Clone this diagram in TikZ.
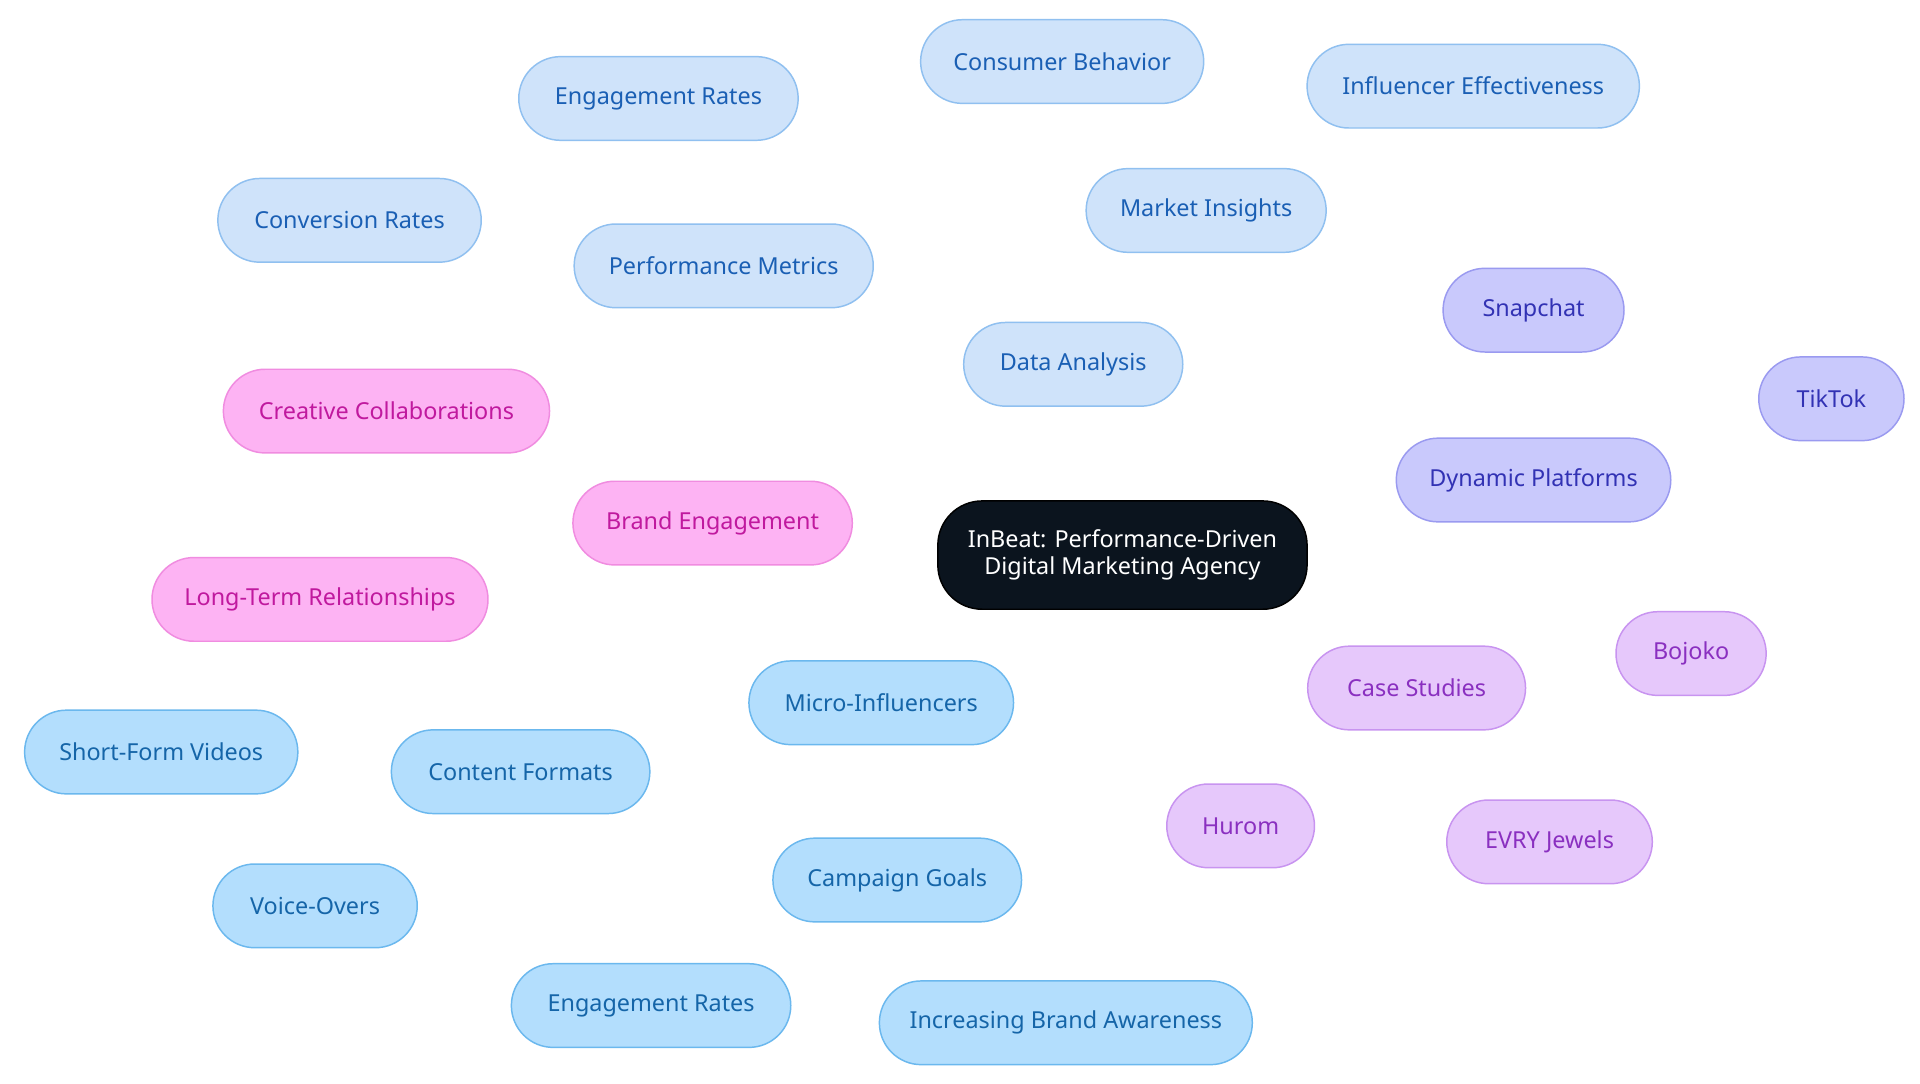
\documentclass[tikz,border=0pt]{standalone}
\usepackage{fontspec}
\setmainfont{Noto Sans}
\usetikzlibrary{backgrounds}
\definecolor{dF}{HTML}{CFE3FA}\definecolor{dB}{HTML}{90C0F0}\definecolor{dT}{HTML}{1A5FB4}
\definecolor{mF}{HTML}{B3DEFD}\definecolor{mB}{HTML}{6BB8EE}\definecolor{mT}{HTML}{1565A8}
\definecolor{pF}{HTML}{C9C9FC}\definecolor{pB}{HTML}{9A9AF0}\definecolor{pT}{HTML}{3232B4}
\definecolor{kF}{HTML}{FDB3F3}\definecolor{kB}{HTML}{F08CE0}\definecolor{kT}{HTML}{C0199E}
\definecolor{lF}{HTML}{E6C8FB}\definecolor{lB}{HTML}{C894F0}\definecolor{lT}{HTML}{8A30C0}
\definecolor{cF}{HTML}{0B141E}
\tikzset{
 b/.style={rounded corners=17pt,minimum height=34pt,font=\fontsize{9.5}{11}\selectfont,line width=0.6pt,inner sep=0pt},
 d/.style={b,fill=dF,draw=dB,text=dT},
 m/.style={b,fill=mF,draw=mB,text=mT},
 p/.style={b,fill=pF,draw=pB,text=pT},
 k/.style={b,fill=kF,draw=kB,text=kT},
 l/.style={b,fill=lF,draw=lB,text=lT},
 ed/.style={draw=dB,line width=1.2pt},
 em/.style={draw=mB,line width=1.2pt},
 ep/.style={draw=pB,line width=1.2pt},
 ek/.style={draw=kB,line width=1.2pt},
 el/.style={draw=lB,line width=1.2pt},
}
\begin{document}
\begin{tikzpicture}[x=0.5pt,y=-0.5pt]
\useasboundingbox[fill=white] (0,0) rectangle (1560,880);
\node[b,fill=cF,draw=black,text=white,minimum width=150pt,minimum height=44pt,rounded corners=18pt,align=center] (c) at (912,451) {InBeat: Performance-Driven\\Digital Marketing Agency};
\node[d,minimum width=89pt] (da) at (872,296) {Data Analysis};
\node[d,minimum width=121.5pt] (pm) at (588,216) {Performance Metrics};
\node[d,minimum width=113.5pt] (er1) at (535,80) {Engagement Rates};
\node[d,minimum width=107pt] (cr) at (284,179) {Conversion Rates};
\node[d,minimum width=97.5pt] (mi) at (980,171) {Market Insights};
\node[d,minimum width=115pt] (cb) at (863,50) {Consumer Behavior};
\node[d,minimum width=135pt] (ie) at (1197,70) {Influencer Effectiveness};
\node[p,minimum width=111.5pt] (dp) at (1246,390) {Dynamic Platforms};
\node[p,minimum width=73.5pt] (sc) at (1246,252) {Snapchat};
\node[p,minimum width=59pt] (tt) at (1488,324) {TikTok};
\node[k,minimum width=113.5pt] (be) at (579,425) {Brand Engagement};
\node[k,minimum width=132.5pt] (cc) at (314,334) {Creative Collaborations};
\node[k,minimum width=136.5pt] (lt) at (260,487) {Long-Term Relationships};
\node[l,minimum width=88.5pt] (cs) at (1151,559) {Case Studies};
\node[l,minimum width=61pt] (bo) at (1374,531) {Bojoko};
\node[l,minimum width=60pt] (hu) at (1008,671) {Hurom};
\node[l,minimum width=83.5pt] (ev) at (1259,684) {EVRY Jewels};
\node[m,minimum width=107.5pt] (mc) at (716,571) {Micro-Influencers};
\node[m,minimum width=105pt] (cf) at (423,627) {Content Formats};
\node[m,minimum width=111pt] (sf) at (131,611) {Short-Form Videos};
\node[m,minimum width=83pt] (vo) at (256,736) {Voice-Overs};
\node[m,minimum width=101pt] (cg) at (729,715) {Campaign Goals};
\node[m,minimum width=113.5pt] (er2) at (529,817) {Engagement Rates};
\node[m,minimum width=151.5pt] (ib) at (866,831) {Increasing Brand Awareness};
\begin{scope}[on background layer]
\path[ed] (c)--(da) (da)--(pm) (pm)--(er1) (pm)--(cr) (da)--(mi) (mi)--(cb) (mi)--(ie);
\path[ep] (c)--(dp) (dp)--(sc) (dp)--(tt);
\path[ek] (c)--(be) (be)--(cc) (be)--(lt);
\path[el] (c)--(cs) (cs)--(bo) (cs)--(hu) (cs)--(ev);
\path[em] (c)--(mc) (mc)--(cf) (cf)--(sf) (cf)--(vo) (mc)--(cg) (cg)--(er2) (cg)--(ib);
\end{scope}
\end{tikzpicture}
\end{document}
